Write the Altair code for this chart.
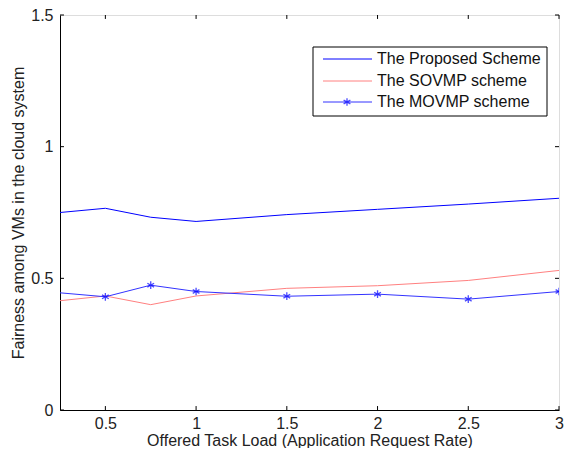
import altair as alt
import pandas as pd

x_vals = [0.25, 0.5, 0.75, 1.0, 1.5, 2.0, 2.5, 3.0]
proposed = [0.750, 0.766, 0.732, 0.716, 0.742, 0.762, 0.782, 0.804]
sovmp = [0.415, 0.433, 0.400, 0.433, 0.462, 0.472, 0.492, 0.530]
movmp = [0.445, 0.430, 0.474, 0.450, 0.432, 0.440, 0.421, 0.450]
series_names = ["The Proposed Scheme", "The SOVMP scheme", "The MOVMP scheme"]
series_colors = ["#0000ff", "#ff8080", "#3333ff"]
x_ticks = [0.5, 1, 1.5, 2, 2.5, 3]
y_ticks = [0, 0.5, 1, 1.5]

rows = []
for name, vals in zip(series_names, [proposed, sovmp, movmp]):
    for xv, yv in zip(x_vals, vals):
        rows.append({"x": xv, "y": yv, "series": name})
df = pd.DataFrame(rows)
df_mark = df[(df.series == series_names[2]) & (df.x > 0.25)]

FONT = "Liberation Sans"
FS = 16
W, H = 499, 395

xs = alt.Scale(domain=[0.25, 3], nice=False, zero=False)
ys = alt.Scale(domain=[0, 1.5], nice=False)
color = alt.Color("series:N", scale=alt.Scale(domain=series_names, range=series_colors), legend=None)

xaxis = alt.Axis(values=x_ticks, ticks=False, grid=False, labelFontSize=FS, labelFont=FONT,
                 labelColor="#222", labelPadding=5, domainColor="black", domainWidth=1,
                 format="~g",
                 title="Offered Task Load (Application Request Rate)", titleFont=FONT,
                 titleFontSize=FS, titleFontWeight="normal", titleColor="#222",
                 titleY=30, titleBaseline="middle", labelFlush=False)
yaxis = alt.Axis(values=y_ticks, ticks=False, grid=False, labelFontSize=FS, labelFont=FONT,
                 labelColor="#222", labelPadding=7, domainColor="black", domainWidth=1,
                 format="~g",
                 title="Fairness among VMs in the cloud system", titleFont=FONT,
                 titleFontSize=FS, titleFontWeight="normal", titleColor="#222",
                 titleX=-42, titleY=H / 2, titleAngle=-90, titleBaseline="middle",
                 titleAlign="center", labelFlush=False)

lines = alt.Chart(df).mark_line(strokeWidth=1, clip=True).encode(
    x=alt.X("x:Q", scale=xs, axis=xaxis),
    y=alt.Y("y:Q", scale=ys, axis=yaxis),
    color=color,
    detail="series:N",
)

star = "M0,-1L0,1M-0.87,-0.5L0.87,0.5M-0.87,0.5L0.87,-0.5"
points = alt.Chart(df_mark).mark_point(shape=star, size=60, filled=False, strokeWidth=1.3,
                                       color="#0000ff", clip=True).encode(
    x=alt.X("x:Q", scale=xs), y=alt.Y("y:Q", scale=ys))

# inward ticks
tick_len_y = 0.015
tick_len_x = 0.022
xt = pd.DataFrame({"x": x_ticks})
yt = pd.DataFrame({"y": y_ticks})
bottom_ticks = alt.Chart(xt).mark_rule(color="black", strokeWidth=1).encode(
    x=alt.X("x:Q", scale=xs), y=alt.datum(0, scale=ys), y2=alt.datum(tick_len_y))
top_ticks = alt.Chart(xt).mark_rule(color="black", strokeWidth=1).encode(
    x=alt.X("x:Q", scale=xs), y=alt.datum(1.5, scale=ys), y2=alt.datum(1.5 - tick_len_y))
left_ticks = alt.Chart(yt).mark_rule(color="black", strokeWidth=1).encode(
    y=alt.Y("y:Q", scale=ys), x=alt.datum(0.25, scale=xs), x2=alt.datum(0.25 + tick_len_x))
right_ticks = alt.Chart(yt).mark_rule(color="black", strokeWidth=1).encode(
    y=alt.Y("y:Q", scale=ys), x=alt.datum(3, scale=xs), x2=alt.datum(3 - tick_len_x))

# manual legend (pixel positions within plot area)
lx0, lx1, ly0, ly1 = 253, 487, 32, 101
row_y = [44, 66, 87]
leg_box = alt.Chart(pd.DataFrame({"a": [0]})).mark_rect(
    fill="white", stroke="black", strokeWidth=1).encode(
    x=alt.value(lx0), x2=alt.value(lx1), y=alt.value(ly0), y2=alt.value(ly1))

leg_layers = [leg_box]
for name, col, yy in zip(series_names, series_colors, row_y):
    d = pd.DataFrame({"t": [name]})
    leg_layers.append(alt.Chart(d).mark_rule(color=col, strokeWidth=1).encode(
        x=alt.value(lx0 + 10), x2=alt.value(lx0 + 59), y=alt.value(yy)))
    leg_layers.append(alt.Chart(d).mark_text(font=FONT, fontSize=FS, align="left",
                                              baseline="middle", color="#111").encode(
        x=alt.value(lx0 + 64), y=alt.value(yy), text="t:N"))
leg_layers.append(alt.Chart(pd.DataFrame({"a": [0]})).mark_point(
    shape=star, size=60, filled=False, strokeWidth=1.3, color="#0000ff").encode(
    x=alt.value(lx0 + 34), y=alt.value(row_y[2])))

chart = alt.layer(lines, points, bottom_ticks, top_ticks, left_ticks, right_ticks,
                  *leg_layers).properties(
    width=W, height=H,
    autosize=alt.AutoSizeParams(type="none"),
    padding={"left": 52, "top": 7, "right": 5, "bottom": 38},
).configure_view(stroke="black", strokeWidth=1).configure(background="white")

chart.save("out.html", embed_options={"renderer": "svg", "actions": False})
